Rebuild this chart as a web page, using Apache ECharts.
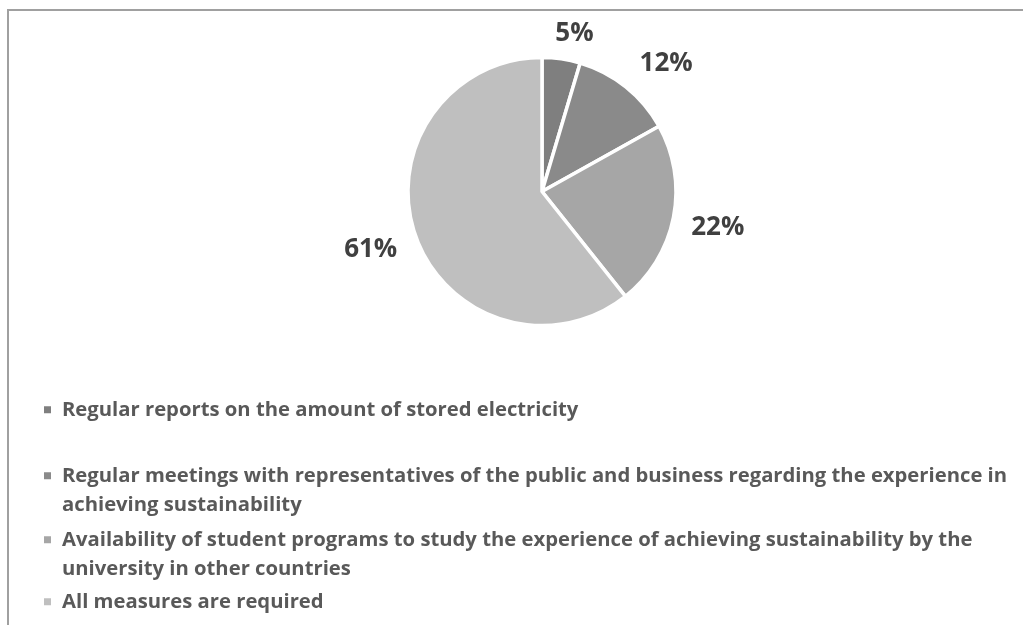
<!DOCTYPE html>
<html>
<head>
<meta charset="utf-8">
<script src="https://cdn.jsdelivr.net/npm/echarts@6/dist/echarts.min.js"></script>
<style>
  html, body { margin: 0; padding: 0; background: #ffffff; }
  #chart { position: absolute; left: 0; top: 0; width: 1023px; height: 625px; }
  #frame { position: absolute; left: 7px; top: 9px; width: 1030px; height: 640px;
           border-top: 2px solid #a0a0a0; border-left: 2px solid #a0a0a0; pointer-events: none; }
</style>
</head>
<body>
<div id="chart"></div>
<div id="frame"></div>
<script>
// ---- data ----
const categories = [
  'Regular reports on the amount of stored electricity',
  'Regular meetings with representatives of the public and business regarding the experience in achieving sustainability',
  'Availability of student programs to study the experience of achieving sustainability by the university in other countries',
  'All measures are required'
];
const shares = [4.6, 12.3, 22.4, 60.7];
const sliceColors = ['#7f7f7f', '#8a8a8a', '#a6a6a6', '#bfbfbf'];

// ---- layout / style ----
const FONT = '"Open Sans", sans-serif';
const legendTops = [395, 461, 525, 587];
const labelOffsets = [[-13, -11.5], [0, -12], [-1, 7], [0, 9.5]];
// square marker aligned with the first text line of a two-line entry
const twoLineIcon = 'path://M0 0H7V7H0Z M0 36.49H0.01V36.5H0Z';

const chart = echarts.init(document.getElementById('chart'), null, { renderer: 'canvas' });

const legends = categories.map((name, i) => {
  const twoLine = (i === 1 || i === 2);
  return {
    orient: 'vertical',
    left: 44,
    top: legendTops[i],
    padding: 0,
    itemWidth: 7,
    itemHeight: twoLine ? 36.5 : 7,
    icon: twoLine ? twoLineIcon : 'rect',
    itemStyle: { borderWidth: 0 },
    selectedMode: false,
    textStyle: {
      fontFamily: FONT,
      fontWeight: 'bold',
      fontSize: 20.25,
      color: '#595959',
      lineHeight: 29.5,
      width: 960,
      overflow: 'break',
      padding: [0, 0, 0, 6]
    },
    data: [name]
  };
});

const option = {
  backgroundColor: '#ffffff',
  animation: false,
  color: sliceColors,
  legend: legends,
  series: [{
    type: 'pie',
    center: [542, 191.5],
    radius: [0, 134],
    startAngle: 90,
    clockwise: true,
    avoidLabelOverlap: false,
    itemStyle: { borderColor: '#ffffff', borderWidth: 3.5 },
    label: {
      show: true,
      position: 'outside',
      fontFamily: FONT,
      fontWeight: 'bold',
      fontSize: 26,
      color: '#404040',
      formatter: p => Math.round(p.percent) + '%'
    },
    labelLine: { show: false, length: 14, length2: 0 },
    labelLayout: p => ({ dx: labelOffsets[p.dataIndex][0], dy: labelOffsets[p.dataIndex][1] }),
    data: categories.map((name, i) => ({ name: name, value: shares[i] }))
  }]
};

chart.setOption(option);
</script>
</body>
</html>
